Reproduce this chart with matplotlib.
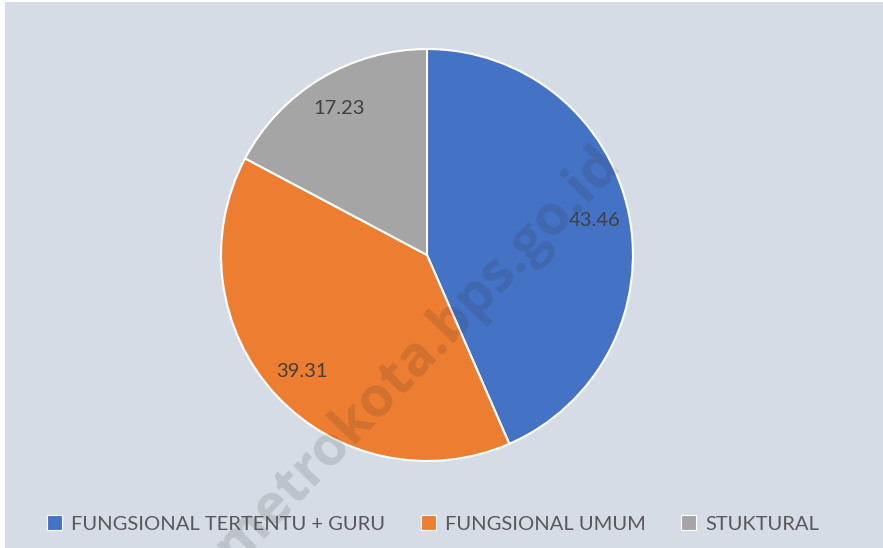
import matplotlib.pyplot as plt

categories = ['FUNGSIONAL TERTENTU + GURU', 'FUNGSIONAL UMUM', 'STUKTURAL']
values = [43.46, 39.31, 17.23]
colors = ['#4472C4', '#ED7D31', '#A5A5A5']

plt.rcParams['font.family'] = ['Lato', 'DejaVu Sans']

fig = plt.figure(figsize=(8.83, 5.48), dpi=100)
fig.patch.set_facecolor('white')
# chart area background
bg = fig.add_axes([5 / 883, 0, 878 / 883, 546 / 548])
bg.set_facecolor('#D6DCE5')
bg.set_xticks([])
bg.set_yticks([])
for s in bg.spines.values():
    s.set_visible(False)

r = 207
cx, cy = 427, 548 - 255
ax = fig.add_axes([(cx - r) / 883, (cy - r) / 548, 2 * r / 883, 2 * r / 548])
wedges, texts, autotexts = ax.pie(
    values, colors=colors, startangle=90, counterclock=False,
    autopct=lambda p: '%.2f' % p, pctdistance=0.83,
    wedgeprops=dict(edgecolor='white', linewidth=1.5),
    textprops=dict(color='#404040', fontsize=14.5))
ax.set_xlim(-1.005, 1.005)
ax.set_ylim(-1.005, 1.005)
ax.set_aspect('equal')

leg = fig.legend(wedges, categories, loc='center', bbox_to_anchor=(433 / 883, 1 - 524 / 548),
                 ncol=3, frameon=False, fontsize=14.5, handlelength=0.75, handleheight=0.75,
                 handletextpad=0.45, columnspacing=1.75)
for t in leg.get_texts():
    t.set_color('#595959')
for h in leg.legend_handles:
    h.set_edgecolor('white')
    h.set_linewidth(0.8)

# watermark
fig.text(418 / 883, 1 - 355 / 548, 'metrokota.bps.go.id', rotation=46, ha='center', va='center',
         fontsize=40, fontweight='bold', color='#303030', alpha=0.15, family=['Open Sans', 'DejaVu Sans'])

fig.savefig('out.png', dpi=100, facecolor=fig.get_facecolor())
